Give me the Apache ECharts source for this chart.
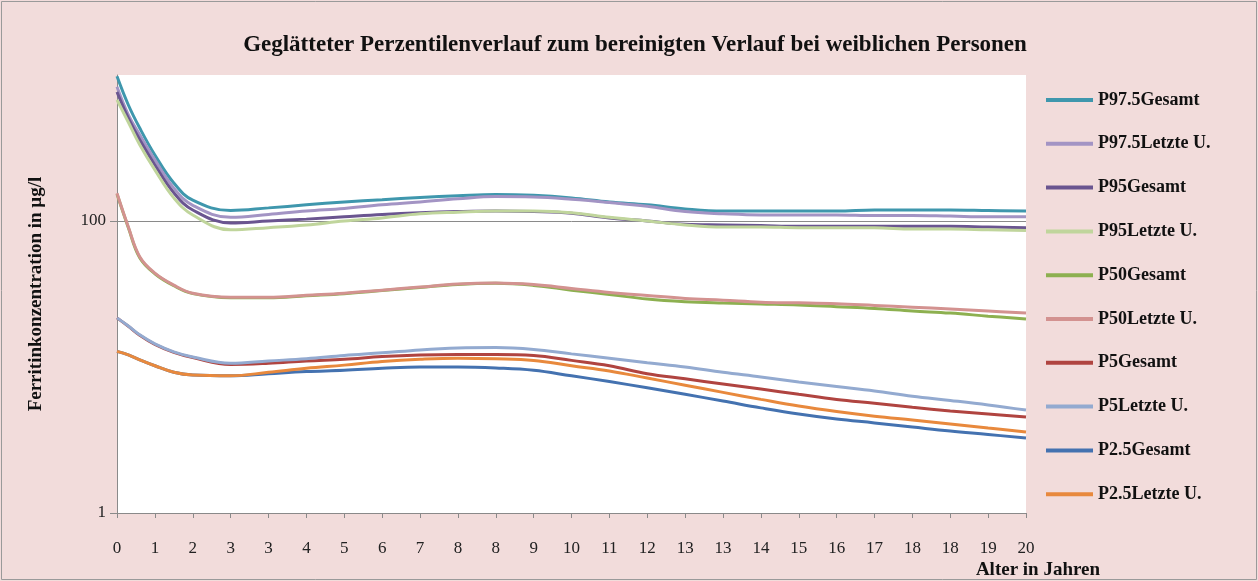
<!DOCTYPE html>
<html>
<head>
<meta charset="utf-8">
<script src="https://cdn.jsdelivr.net/npm/echarts@6/dist/echarts.min.js"></script>
<style>
html,body{margin:0;padding:0;background:#F2DCDB;}
#chart{width:1258px;height:581px;}
</style>
</head>
<body>
<div id="chart"></div>
<script>
// Age in months (x positions of readings)
const ageMonths = [0, 3, 6, 10, 15, 20, 30, 40, 50, 60, 70, 80, 90, 100, 110, 120, 130, 140, 150, 160, 170, 180, 190, 200, 210, 220, 230, 240];
// Tick labels (one per 10 months, as in original)
const xTickLabels = ['0','1','2','3','3','4','5','6','7','8','8','9','10','11','12','13','13','14','15','16','17','18','18','19','20'];
const yTickValues = [1, 100];

const seriesNames = ['P97.5Gesamt','P97.5Letzte U.','P95Gesamt','P95Letzte U.','P50Gesamt','P50Letzte U.','P5Gesamt','P5Letzte U.','P2.5Gesamt','P2.5Letzte U.'];
const seriesColors = ['#3F97AD','#A394C4','#6A5590','#C0D59C','#8DB050','#D39290','#B04440','#93AAD0','#4472B0','#E8893D'];

const p975Gesamt = [980, 623, 433, 283, 182, 139, 118, 123, 129, 135, 140, 145, 149, 152, 150, 144, 135, 129, 121, 117, 117, 117, 117, 119, 119, 119, 118, 117];
const p975Letzte = [830, 533, 389, 262, 168, 128, 106, 111, 117, 122, 129, 135, 142, 147, 146, 141, 134, 126, 116, 112, 110, 110, 110, 109, 109, 108, 107, 107];
const p95Gesamt  = [765, 506, 360, 242, 156, 119, 97, 100, 103, 107, 111, 114, 116, 117, 116, 113, 105, 100, 95, 94, 93, 92, 92, 92, 92, 92, 91, 90];
const p95Letzte  = [675, 475, 333, 224, 144, 110, 87, 90, 94, 100, 105, 112, 115, 117, 117, 114, 106, 100, 94, 91, 91, 90, 90, 90, 88, 88, 87, 86];
const p50Gesamt  = [153, 90, 56, 43.5, 36, 31.8, 29.8, 29.8, 30.8, 31.8, 33.4, 35.1, 36.8, 37.4, 36.2, 33.6, 31.4, 29.2, 28, 27.4, 27, 26.6, 25.9, 25.2, 24.2, 23.4, 22.3, 21.3];
const p50Letzte  = [155, 91, 57, 44, 36.4, 32, 30, 30, 31, 32, 33.6, 35.3, 37, 37.6, 36.7, 34.5, 32.4, 30.9, 29.5, 28.7, 27.8, 27.5, 27.1, 26.4, 25.7, 25, 24.2, 23.4];
const p5Gesamt   = [21.7, 19.0, 16.5, 14.3, 12.6, 11.6, 10.4, 10.6, 11.0, 11.3, 11.8, 12.1, 12.2, 12.2, 12.0, 11.1, 10.2, 9.0, 8.3, 7.65, 7.06, 6.5, 6.0, 5.65, 5.3, 5.0, 4.76, 4.54];
const p5Letzte   = [21.7, 19.1, 16.6, 14.4, 12.7, 11.7, 10.6, 11.0, 11.4, 12.0, 12.5, 13.1, 13.5, 13.6, 13.2, 12.3, 11.5, 10.7, 10.0, 9.2, 8.55, 7.9, 7.35, 6.85, 6.3, 5.9, 5.5, 5.07];
const p25Gesamt  = [12.8, 12.1, 11.2, 10.2, 9.2, 8.8, 8.7, 9.0, 9.3, 9.5, 9.8, 10.0, 10.0, 9.85, 9.5, 8.7, 7.95, 7.2, 6.5, 5.85, 5.25, 4.76, 4.4, 4.14, 3.88, 3.64, 3.45, 3.26];
const p25Letzte  = [12.8, 12.1, 11.2, 10.2, 9.2, 8.8, 8.7, 9.2, 9.8, 10.3, 10.9, 11.3, 11.5, 11.4, 11.1, 10.2, 9.4, 8.4, 7.5, 6.7, 6.0, 5.4, 4.95, 4.6, 4.33, 4.07, 3.82, 3.59];

const allValues = [p975Gesamt, p975Letzte, p95Gesamt, p95Letzte, p50Gesamt, p50Letzte, p5Gesamt, p5Letzte, p25Gesamt, p25Letzte];

const serif = '"Liberation Serif", "DejaVu Serif", serif';

const series = allValues.map((vals, k) => {
  const s = {
    name: seriesNames[k],
    type: 'line',
    smooth: 0.4,
    showSymbol: false,
    symbol: 'none',
    data: vals.map((v, i) => [ageMonths[i], v]),
    lineStyle: { color: seriesColors[k], width: 3 },
    itemStyle: { color: seriesColors[k] },
    z: 3
  };
  if (k === 0) {
    s.markLine = {
      silent: true,
      symbol: 'none',
      label: { show: false },
      lineStyle: { color: '#8a8a8a', width: 1, type: 'solid' },
      data: [{ yAxis: 100 }],
      z: 1
    };
  }
  return s;
});

const chart = echarts.init(document.getElementById('chart'), null, { renderer: 'canvas' });
chart.setOption({
  backgroundColor: '#F2DCDB',
  animation: false,
  title: {
    text: 'Geglätteter Perzentilenverlauf zum bereinigten Verlauf bei weiblichen Personen',
    left: 630, top: 29, textAlign: 'center',
    textStyle: { fontFamily: serif, fontSize: 23, fontWeight: 'bold', color: '#111' }
  },
  legend: {
    orient: 'vertical',
    left: 1041, top: 86,
    itemWidth: 47, itemHeight: 4,
    itemGap: 25.8,
    icon: 'rect',
    data: seriesNames,
    textStyle: { fontFamily: serif, fontSize: 18, fontWeight: 'bold', color: '#111' }
  },
  graphic: [{
    type: 'rect', silent: true, z: -1,
    shape: { x: 1.5, y: 1.5, width: 1255, height: 578 },
    style: { fill: 'none', stroke: '#9a9a9a', lineWidth: 1 }
  }],
  grid: {
    left: 117, right: 232, top: 75, bottom: 68,
    show: true, backgroundColor: '#ffffff', borderWidth: 0
  },
  xAxis: {
    type: 'value',
    min: 0, max: 240, interval: 10,
    name: 'Alter in Jahren',
    nameLocation: 'end',
    nameGap: 12,
    nameTextStyle: { fontFamily: serif, fontSize: 19, fontWeight: 'bold', color: '#111', align: 'center', verticalAlign: 'top', padding: [48, 0, 0, 0] },
    axisLine: { show: true, lineStyle: { color: '#8a8a8a', width: 1 } },
    axisTick: { show: true, length: 5, lineStyle: { color: '#8a8a8a' } },
    splitLine: { show: false },
    axisLabel: {
      margin: 27,
      fontFamily: serif, fontSize: 17, color: '#222',
      formatter: v => xTickLabels[Math.round(v / 10)]
    }
  },
  yAxis: {
    type: 'log',
    logBase: 100,
    min: 1, max: 1000,
    name: 'Ferritinkonzentration in µg/l',
    nameLocation: 'middle',
    nameRotate: 90,
    nameGap: 71,
    nameTextStyle: { fontFamily: serif, fontSize: 19, fontWeight: 'bold', color: '#111' },
    axisLine: { show: true, lineStyle: { color: '#8a8a8a', width: 1 } },
    axisTick: { show: true, length: 7, lineStyle: { color: '#8a8a8a' }, customValues: yTickValues },
    splitLine: { show: false },
    axisLabel: {
      margin: 11,
      customValues: yTickValues,
      fontFamily: serif, fontSize: 17, color: '#222',
      formatter: v => String(Math.round(v))
    }
  },
  series: series
});
</script>
</body>
</html>
